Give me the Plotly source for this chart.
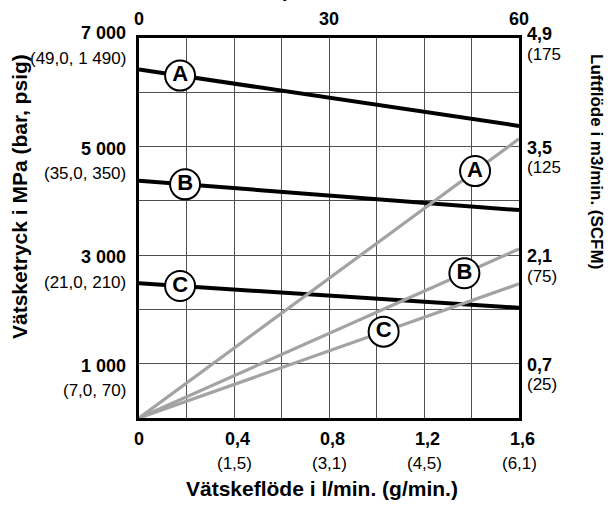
import numpy as np
import plotly.graph_objects as go

# Fluid flow (l/min) at the two ends of every curve
flow = [0.0, 1.6]

# Fluid pressure curves (left scale)
pressure_A = [6420, 5380]
pressure_B = [4370, 3830]
pressure_C = [2480, 2030]

# Air consumption curves, m3/min (right scale)
air_A = [0.0, 3.60]
air_B = [0.0, 2.18]
air_C = [0.0, 1.73]

# Where the A/B/C badges sit along each curve (flow value)
badge_letters = ["A", "B", "C"]
badge_flow_pressure = [0.173, 0.194, 0.173]
badge_flow_air = [1.415, 1.37, 1.03]

# Tick labels
left_ticks = [1000, 3000, 5000, 7000]
left_main = ["1 000", "3 000", "5 000", "7 000"]
left_sub = ["(7,0, 70)", "(21,0, 210)", "(35,0, 350)", "(49,0, 1 490)"]

right_ticks = [0.7, 2.1, 3.5, 4.9]
right_main = ["0,7", "2,1", "3,5", "4,9"]
right_sub = ["(25)", "(75)", "(125", "(175"]

bottom_ticks = [0, 0.4, 0.8, 1.2, 1.6]
bottom_main = ["0", "0,4", "0,8", "1,2", "1,6"]
bottom_sub = ["", "(1,5)", "(3,1)", "(4,5)", "(6,1)"]

top_ticks = [0, 30, 60]
top_main = ["0", "30", "60"]

FONT = "Liberation Sans, Arial, Helvetica, sans-serif"
GRAY = "#a3a3a3"

fig = go.Figure()

# Air consumption curves
for vals in (air_A, air_B, air_C):
    fig.add_trace(go.Scatter(x=flow, y=vals, mode="lines", xaxis="x", yaxis="y2",
                             line=dict(color=GRAY, width=3.2), hoverinfo="skip",
                             showlegend=False))

# Fluid pressure curves
for vals in (pressure_A, pressure_B, pressure_C):
    fig.add_trace(go.Scatter(x=flow, y=vals, mode="lines", xaxis="x", yaxis="y",
                             line=dict(color="black", width=4), hoverinfo="skip",
                             showlegend=False))

# Letter badges placed on the curves
def badges(xs, curves, yaxis):
    ys = [float(np.interp(x, flow, c)) for x, c in zip(xs, curves)]
    fig.add_trace(go.Scatter(
        x=xs, y=ys, mode="markers+text", xaxis="x", yaxis=yaxis,
        text=[f"<b>{t}</b>" for t in badge_letters], textposition="middle center",
        textfont=dict(family=FONT, size=22, color="black"),
        marker=dict(size=30, color="white", line=dict(color="black", width=2)),
        hoverinfo="skip", showlegend=False))

badges(badge_flow_pressure, [pressure_A, pressure_B, pressure_C], "y")
badges(badge_flow_air, [air_A, air_B, air_C], "y2")

MAIN = dict(family=FONT, size=18, color="black")
SUB = dict(family=FONT, size=17, color="black")

ann = []
# Left scale labels
for v, m, s in zip(left_ticks, left_main, left_sub):
    shift = -5 if v == max(left_ticks) else 2
    ann.append(dict(xref="paper", yref="y", x=0, y=v, xanchor="right", yanchor="middle",
                    xshift=-11, yshift=-shift, text=f"<b>{m}</b>", showarrow=False,
                    font=MAIN))
    ann.append(dict(xref="paper", yref="y", x=0, y=v, xanchor="right", yanchor="middle",
                    xshift=-11, yshift=-shift - 25, text=s, showarrow=False,
                    font=SUB))

# Right scale labels
for v, m, s in zip(right_ticks, right_main, right_sub):
    shift = -4 if v == max(right_ticks) else 1
    ann.append(dict(xref="paper", yref="y2", x=1, y=v, xanchor="left", yanchor="middle",
                    xshift=6, yshift=-shift, text=f"<b>{m}</b>", showarrow=False,
                    font=MAIN))
    ann.append(dict(xref="paper", yref="y2", x=1, y=v, xanchor="left", yanchor="middle",
                    xshift=6, yshift=-shift - 20, text=s, showarrow=False,
                    font=SUB))

# Bottom scale labels
for v, m, s in zip(bottom_ticks, bottom_main, bottom_sub):
    ann.append(dict(xref="x", yref="paper", x=v, y=0, xanchor="center", yanchor="middle",
                    xshift=3 if v > 0 else 0, yshift=-21, text=f"<b>{m}</b>", showarrow=False,
                    font=MAIN))
    if s:
        ann.append(dict(xref="x", yref="paper", x=v, y=0, xanchor="center", yanchor="middle",
                        yshift=-45, text=s, showarrow=False, font=SUB))

# Top scale labels
for v, m in zip(top_ticks, top_main):
    ann.append(dict(xref="x2", yref="paper", x=v, y=1, xanchor="center", yanchor="middle",
                    yshift=19, text=f"<b>{m}</b>", showarrow=False, font=MAIN))

# Axis titles
ann.append(dict(xref="paper", yref="paper", x=0.5, y=0, xanchor="center", yanchor="middle",
                xshift=-7, yshift=-70, text="<b>Vätskeflöde i l/min. (g/min.)</b>",
                showarrow=False, font=dict(family=FONT, size=21, color="black")))
ann.append(dict(xref="paper", yref="paper", x=0, y=0.5, xanchor="center", yanchor="middle",
                xshift=-120, yshift=31, textangle=-90,
                text="<b>Vätsketryck i MPa (bar, psig)</b>",
                showarrow=False, font=dict(family=FONT, size=21, color="black")))
ann.append(dict(xref="paper", yref="paper", x=1, y=0.5, xanchor="center", yanchor="middle",
                xshift=78, yshift=67, textangle=90,
                text="<b>Luftflöde i m3/min. (SCFM)</b>",
                showarrow=False, font=dict(family=FONT, size=17, color="black")))
# Top scale title, sitting above the visible area so only its descender shows
ann.append(dict(xref="paper", yref="paper", x=0.5, y=1, xanchor="center", yanchor="bottom",
                xshift=-15, yshift=35, text="<b>Cykler/min.</b>",
                showarrow=False, font=dict(family=FONT, size=16, color="black")))

grid = dict(showgrid=True, gridcolor="#505050", gridwidth=1, zeroline=False,
            showticklabels=False, ticks="", showline=True, linecolor="black",
            linewidth=3, mirror=True, fixedrange=True)
hidden = dict(showgrid=False, zeroline=False, showticklabels=False, ticks="",
              showline=False, fixedrange=True)

fig.update_layout(
    width=610, height=505,
    margin=dict(l=139, r=91, t=38, b=87),
    paper_bgcolor="white", plot_bgcolor="white",
    xaxis=dict(range=[0, 1.6], dtick=0.2, tick0=0, **grid),
    yaxis=dict(range=[0, 7000], dtick=1000, tick0=0, **grid),
    xaxis2=dict(range=[0, 60], overlaying="x", side="top", **hidden),
    yaxis2=dict(range=[0, 4.9], overlaying="y", side="right", **hidden),
    annotations=ann,
    showlegend=False,
)

fig.write_html("out.html", config={"displayModeBar": False})
